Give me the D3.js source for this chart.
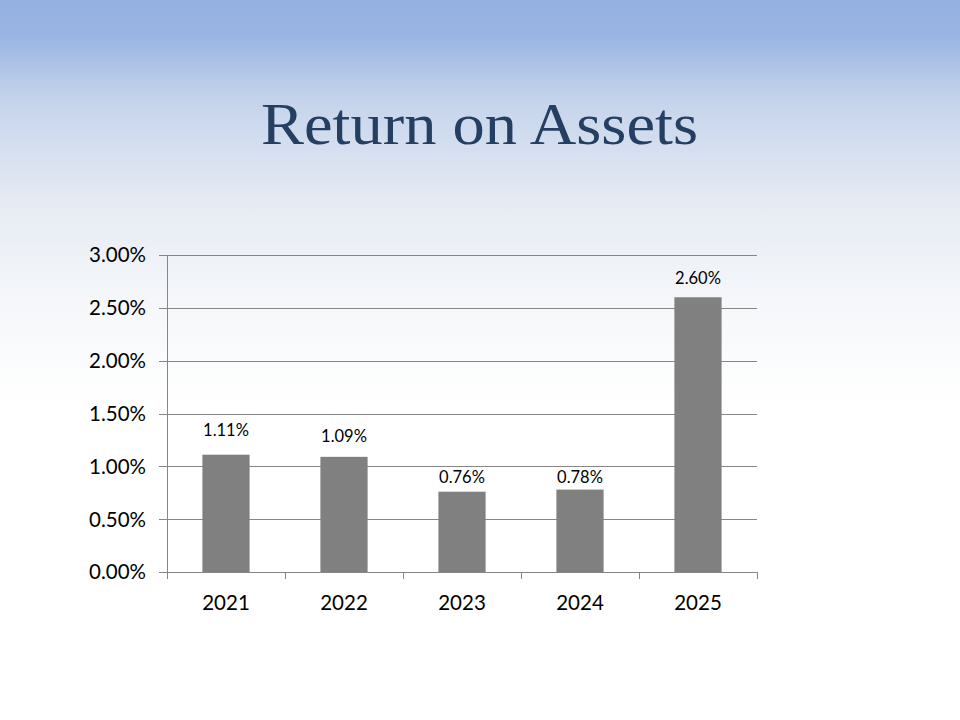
<!DOCTYPE html>
<html>
<head>
<meta charset="utf-8">
<script src="https://cdn.jsdelivr.net/npm/d3@7"></script>
<style>
  html, body { margin: 0; padding: 0; background: #fff; }
  svg { display: block; }
</style>
</head>
<body>
<svg id="chart" width="960" height="720"></svg>
<script>
// ---- data ----
const title = "Return on Assets";
const years = ["2021", "2022", "2023", "2024", "2025"];
const roa = [0.0111, 0.0109, 0.0076, 0.0078, 0.0260];
const dataLabels = ["1.11%", "1.09%", "0.76%", "0.78%", "2.60%"];
const yTicks = [0, 0.005, 0.01, 0.015, 0.02, 0.025, 0.03];
const yTickLabels = ["0.00%", "0.50%", "1.00%", "1.50%", "2.00%", "2.50%", "3.00%"];
// label gap above bar top (as placed in the original)
const labelGap = [19, 15, 9, 7, 13];

(function () {
const svg = d3.select("#chart");

// background gradient
const defs = svg.append("defs");
const grad = defs.append("linearGradient").attr("id", "bg")
  .attr("x1", 0).attr("y1", 0).attr("x2", 0).attr("y2", 1);
[[0, "#94b0e0"], [0.05, "#9ab5e3"], [0.14, "#c5d4ec"], [0.28, "#e6ebf3"],
 [0.42, "#f5f7fa"], [0.56, "#ffffff"], [1, "#ffffff"]]
  .forEach(([o, c]) => grad.append("stop").attr("offset", o).attr("stop-color", c));
svg.append("rect").attr("width", 960).attr("height", 720).attr("fill", "url(#bg)");

// title
svg.append("text")
  .attr("x", 479.5).attr("y", 144)
  .attr("text-anchor", "middle")
  .attr("font-family", "'Liberation Serif', 'DejaVu Serif', serif")
  .attr("font-size", 60)
  .attr("fill", "#243f62")
  .attr("textLength", 437)
  .attr("lengthAdjust", "spacingAndGlyphs")
  .text(title);

// scales
const pLeft = 167, pRight = 757, pTop = 255, pBottom = 572;
const x = d3.scaleBand().domain(years).range([pLeft, pRight])
  .paddingInner(0.6).paddingOuter(0.3);
const y = d3.scaleLinear().domain([0, 0.03]).range([pBottom, pTop]);

const axisColor = "#868686";
const font = "Lato, 'Open Sans', sans-serif";

// gridlines
svg.append("g").selectAll("line").data(yTicks).join("line")
  .attr("x1", pLeft - 8).attr("x2", pRight)
  .attr("y1", d => Math.round(y(d)) + 0.5).attr("y2", d => Math.round(y(d)) + 0.5)
  .attr("stroke", axisColor).attr("stroke-width", 1);

// y axis labels
svg.append("g").selectAll("text").data(yTicks).join("text")
  .attr("x", 146).attr("y", d => y(d))
  .attr("dy", "0.36em")
  .attr("text-anchor", "end")
  .attr("font-family", font).attr("font-size", 20.5).attr("fill", "#000")
  .text((d, i) => yTickLabels[i]);

// bars
svg.append("g").selectAll("rect").data(roa).join("rect")
  .attr("x", (d, i) => x(years[i]))
  .attr("width", x.bandwidth())
  .attr("y", d => y(d))
  .attr("height", d => y(0) - y(d))
  .attr("fill", "#808080");

// y axis line
svg.append("line")
  .attr("x1", pLeft + 0.5).attr("x2", pLeft + 0.5)
  .attr("y1", pTop).attr("y2", pBottom + 7)
  .attr("stroke", axisColor).attr("stroke-width", 1);

// x axis labels
const xAxis = d3.axisBottom(x).tickSize(0).tickPadding(0).tickFormat(d => d);
const gx = svg.append("g").attr("transform", `translate(0,${pBottom})`).call(xAxis);
gx.select(".domain").remove();
gx.selectAll("text")
  .attr("font-family", font).attr("font-size", 20.5).attr("fill", "#000")
  .attr("dy", null).attr("y", 38);

// x axis line + boundary ticks
svg.append("line")
  .attr("x1", pLeft).attr("x2", pRight)
  .attr("y1", Math.round(y(0)) + 0.5).attr("y2", Math.round(y(0)) + 0.5)
  .attr("stroke", axisColor);
svg.append("g").selectAll("line")
  .data(d3.range(years.length + 1))
  .join("line")
  .attr("x1", i => Math.round(pLeft + i * x.step()) + 0.5)
  .attr("x2", i => Math.round(pLeft + i * x.step()) + 0.5)
  .attr("y1", pBottom).attr("y2", pBottom + 7)
  .attr("stroke", axisColor);

// data labels
svg.append("g").selectAll("text").data(roa).join("text")
  .attr("x", (d, i) => x(years[i]) + x.bandwidth() / 2)
  .attr("y", (d, i) => y(d) - labelGap[i])
  .attr("text-anchor", "middle")
  .attr("font-family", font).attr("font-size", 16.5).attr("fill", "#000")
  .text((d, i) => dataLabels[i]);
})();
</script>
</body>
</html>
